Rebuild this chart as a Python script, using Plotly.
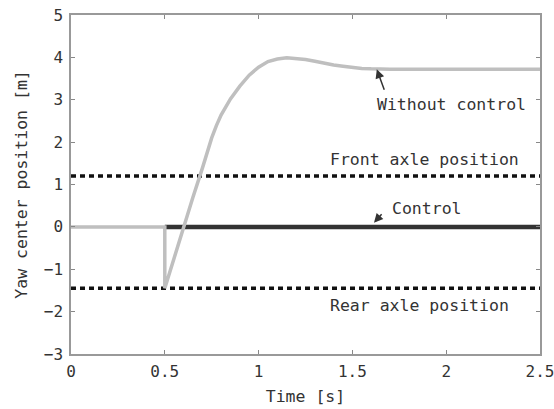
import plotly.graph_objects as go

# Data
t_without = [0, 0.5, 0.5, 0.55, 0.6, 0.65, 0.7, 0.725, 0.75, 0.775, 0.8, 0.85, 0.9, 0.95, 1.0, 1.05,
             1.1, 1.15, 1.2, 1.25, 1.3, 1.35, 1.4, 1.45, 1.5, 1.55, 1.6, 1.7, 2.0, 2.5]
y_without = [0, 0, -1.45, -0.72, 0.0, 0.7, 1.38, 1.76, 2.1, 2.39, 2.64, 3.02, 3.32, 3.58, 3.77, 3.9,
             3.96, 3.99, 3.98, 3.95, 3.91, 3.86, 3.82, 3.79, 3.76, 3.74, 3.73, 3.72, 3.72, 3.72]
t_control = [0.5, 2.5]
y_control = [0, 0]
t_axle = [0, 2.5]
front_axle = [1.2, 1.2]
rear_axle = [-1.45, -1.45]
x_ticks = [0, 0.5, 1, 1.5, 2, 2.5]
x_labels = ["0", "0.5", "1", "1.5", "2", "2.5"]
y_ticks = [-3, -2, -1, 0, 1, 2, 3, 4, 5]
y_labels = ["\u22123", "\u22122", "\u22121", "0", "1", "2", "3", "4", "5"]

FONT = "DejaVu Sans Mono"
TXT = "#333333"
FS = 16.5

fig = go.Figure()
fig.add_trace(go.Scatter(x=t_axle, y=front_axle, mode="lines",
                         line=dict(color="#111111", width=3.5, dash="5px,4px")))
fig.add_trace(go.Scatter(x=t_axle, y=rear_axle, mode="lines",
                         line=dict(color="#111111", width=3.5, dash="5px,4px")))
fig.add_trace(go.Scatter(x=t_control, y=y_control, mode="lines",
                         line=dict(color="#333333", width=4.5)))
fig.add_trace(go.Scatter(x=t_without, y=y_without, mode="lines",
                         line=dict(color="#bfbfbf", width=3.5)))

fig.update_layout(
    width=554, height=409,
    margin=dict(l=71, r=14, t=15, b=55),
    paper_bgcolor="white", plot_bgcolor="white",
    showlegend=False,
    font=dict(family=FONT, color=TXT, size=FS),
    xaxis=dict(range=[0, 2.5], tickvals=x_ticks, ticktext=x_labels, automargin=False,
               ticklabeloverflow="allow",
               ticks="inside", ticklen=4, tickcolor="#888888", mirror="ticks",
               showline=True, linecolor="#999999", linewidth=1.5, showgrid=False,
               zeroline=False, tickfont=dict(size=16, color=TXT), ticklabelstandoff=2,
               title=dict(text="Time [s]", font=dict(size=FS, color=TXT), standoff=10)),
    yaxis=dict(range=[-3, 5], tickvals=y_ticks, ticktext=y_labels, automargin=False,
               ticklabeloverflow="allow",
               ticks="inside", ticklen=4, tickcolor="#888888", mirror="ticks",
               showline=True, linecolor="#999999", linewidth=1.5, showgrid=False,
               zeroline=False, tickfont=dict(size=16, color=TXT), ticklabelstandoff=3,
               title=dict(text="Yaw center position [m]", font=dict(size=FS, color=TXT), standoff=12)),
)

fig.add_annotation(x=1.63, y=3.72, xref="x", yref="y", ax=8, ay=22,
                   text="", showarrow=True, arrowhead=2, arrowsize=1.2,
                   arrowwidth=1.5, arrowcolor="#333333")
fig.add_annotation(x=1.62, y=2.89, xref="x", yref="y", text="Without control",
                   showarrow=False, xanchor="left", font=dict(size=FS, color=TXT))
fig.add_annotation(x=1.37, y=1.59, xref="x", yref="y", text="Front axle position",
                   showarrow=False, xanchor="left", font=dict(size=FS, color=TXT))
fig.add_annotation(x=1.615, y=0.1, xref="x", yref="y", ax=9, ay=-10,
                   text="", showarrow=True, arrowhead=2, arrowsize=1.2,
                   arrowwidth=1.5, arrowcolor="#333333")
fig.add_annotation(x=1.70, y=0.43, xref="x", yref="y", text="Control",
                   showarrow=False, xanchor="left", font=dict(size=FS, color=TXT))
fig.add_annotation(x=1.37, y=-1.86, xref="x", yref="y", text="Rear axle position",
                   showarrow=False, xanchor="left", font=dict(size=FS, color=TXT))

fig.write_html("out.html")
